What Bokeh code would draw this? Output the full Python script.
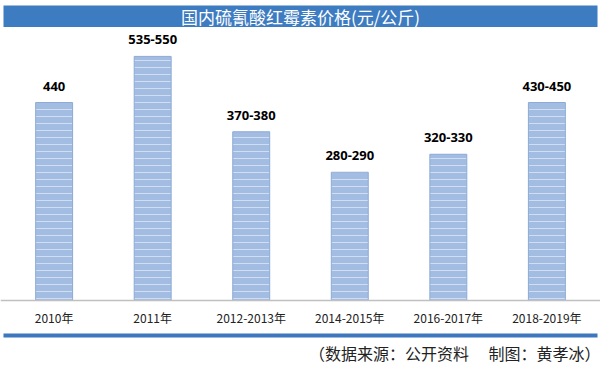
from bokeh.plotting import figure
from bokeh.models import (ColumnDataSource, FactorRange, Range1d, Span,
                          BoxAnnotation, Label)
from bokeh.core.properties import value
from bokeh.embed import file_html
from bokeh.resources import INLINE

# ---- data ----
categories = ["2010年", "2011年", "2012-2013年", "2014-2015年", "2016-2017年", "2018-2019年"]
prices_mid = [440, 542.5, 375, 285, 325, 440]
price_labels = ["440", "535-550", "370-380", "280-290", "320-330", "430-450"]
title_text = "国内硫氰酸红霉素价格(元/公斤)"
footer_text = "（数据来源：公开资料　 制图：黄孝冰）"

src = ColumnDataSource(dict(cat=categories, val=prices_mid, lab=price_labels,
                            zero=[0] * len(categories)))

W, H = 600, 365
p = figure(width=W, height=H, output_backend="svg", toolbar_location=None,
           x_range=FactorRange(factors=categories, range_padding=0.0147),
           y_range=Range1d(-144.4, 666.7),
           min_border=0, min_border_left=0, min_border_right=0,
           min_border_top=0, min_border_bottom=0)
p.axis.visible = False
p.grid.visible = False
p.outline_line_color = None
p.background_fill_color = "white"
p.border_fill_color = "white"

# bars
p.vbar(x="cat", top="val", bottom=0, width=0.375, source=src,
       fill_color="#a3bde2", line_color="#8daad6", line_width=1,
       hatch_pattern="horizontal_line", hatch_color="white",
       hatch_alpha=0.5, hatch_scale=7, hatch_weight=1)

# baseline
p.add_layout(Span(location=0, dimension="width", line_color="#c0c0c0", line_width=1.5))

# value labels
p.text(x="cat", y="val", text="lab", source=src, text_align="center",
       text_baseline="bottom", y_offset=-12, text_font=value("Noto Sans"),
       text_font_style="bold", text_font_size="13px", text_color="black")

# category labels
p.text(x="cat", y="zero", text="cat", source=src, text_align="center",
       text_baseline="middle", y_offset=17, text_font=value("Noto Sans CJK SC"),
       text_font_size="12px", text_color="#222222")

# title banner
p.add_layout(BoxAnnotation(top=H - 5, bottom=H - 26.5, left=3, right=W - 3,
                           top_units="screen", bottom_units="screen",
                           left_units="screen", right_units="screen",
                           fill_color="#3d7cc1", fill_alpha=1, line_color=None))
p.add_layout(Label(x=W / 2, y=H - 16, x_units="screen", y_units="screen", text=title_text,
                   text_align="center", text_baseline="middle", text_color="white",
                   text_font="Noto Sans CJK SC", text_font_size="17px"))

# bottom blue rule
p.add_layout(BoxAnnotation(top=H - 333, bottom=H - 337, left=3, right=W - 3,
                           top_units="screen", bottom_units="screen",
                           left_units="screen", right_units="screen",
                           fill_color="#3d77bd", fill_alpha=1, line_color=None))

# footer
p.add_layout(Label(x=W, y=H - 352, x_units="screen", y_units="screen", text=footer_text,
                   text_align="right", text_baseline="middle", text_color="#222222",
                   text_font="Noto Sans CJK SC", text_font_size="16px"))

open("out.html", "w").write(file_html(p, INLINE))
